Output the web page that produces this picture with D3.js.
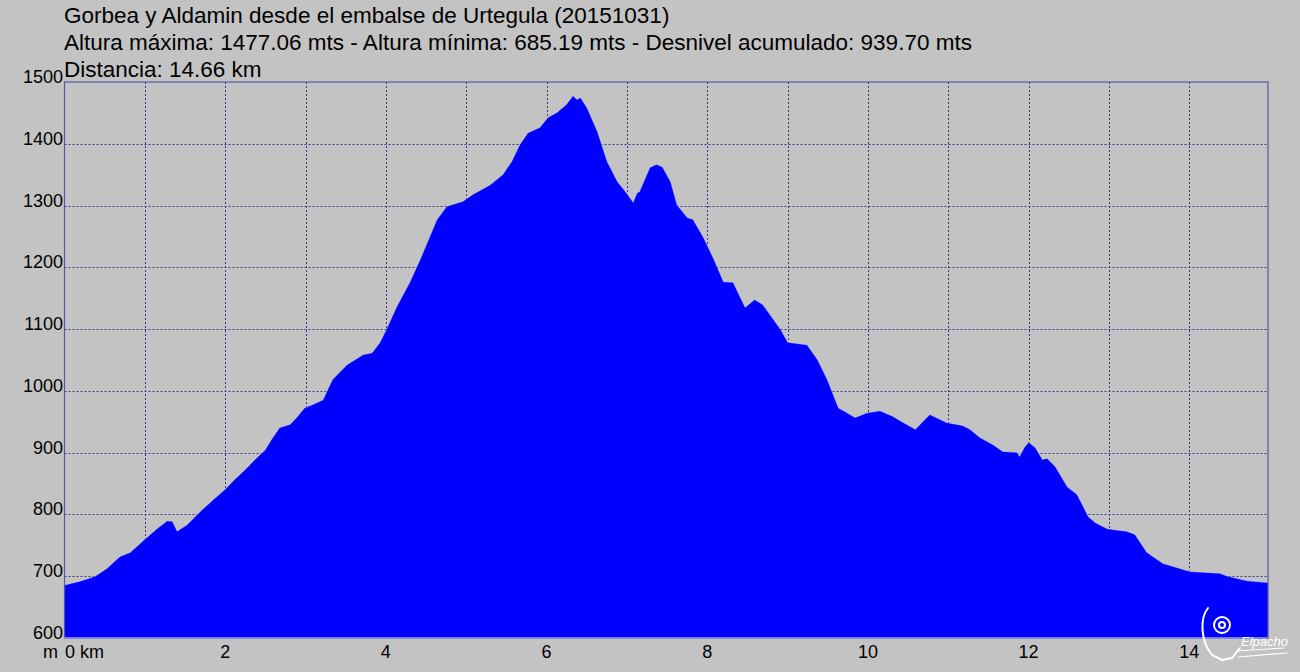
<!DOCTYPE html>
<html>
<head>
<meta charset="utf-8">
<script src="https://cdn.jsdelivr.net/npm/d3@7"></script>
<style>
  html, body { margin: 0; padding: 0; background: #c3c3c3; }
  svg { display: block; }
  text { font-family: "Liberation Sans", Arial, sans-serif; fill: #000; }
</style>
</head>
<body>
<svg id="chart" width="1300" height="672"></svg>
<script>
// ---- data ----
const titleLines = [
  "Gorbea y Aldamin desde el embalse de Urtegula (20151031)",
  "Altura máxima: 1477.06 mts - Altura mínima: 685.19 mts - Desnivel acumulado: 939.70 mts",
  "Distancia: 14.66 km"
];
const yTicks = [600, 700, 800, 900, 1000, 1100, 1200, 1300, 1400, 1500];
const xGrid = [1, 2, 3, 4, 5, 6, 7, 8, 9, 10, 11, 12, 13, 14];
const xLabels = [2, 4, 6, 8, 10, 12, 14];
const distKm = [0, 0.19, 0.38, 0.53, 0.69, 0.82, 1.00, 1.15, 1.28, 1.34, 1.40, 1.53, 1.69, 1.85, 2.00,
  2.12, 2.25, 2.37, 2.50, 2.58, 2.68, 2.81, 2.89, 2.99, 3.09, 3.22, 3.34, 3.52, 3.72, 3.83, 3.93,
  4.01, 4.14, 4.30, 4.43, 4.55, 4.64, 4.76, 4.96, 5.08, 5.30, 5.46, 5.57, 5.67, 5.77, 5.92, 6.02,
  6.13, 6.25, 6.33, 6.38, 6.42, 6.50, 6.63, 6.75, 6.88, 6.98, 7.08, 7.13, 7.16, 7.29, 7.37, 7.44,
  7.54, 7.62, 7.75, 7.82, 7.95, 8.07, 8.20, 8.32, 8.47, 8.59, 8.69, 8.91, 9.00, 9.24, 9.37, 9.49,
  9.63, 9.74, 9.84, 9.99, 10.15, 10.31, 10.44, 10.59, 10.77, 10.98, 11.18, 11.27, 11.39, 11.56,
  11.68, 11.85, 11.89, 11.95, 12.00, 12.08, 12.17, 12.23, 12.33, 12.48, 12.60, 12.74, 12.83,
  12.98, 13.22, 13.32, 13.47, 13.67, 14.01, 14.38, 14.48, 14.72, 14.98];
const elevM = [685, 691, 699, 712, 731, 738, 759, 776, 789, 788, 772, 783, 804, 823, 840,
  856, 872, 888, 904, 921, 940, 945, 956, 972, 977, 985, 1018, 1042, 1058, 1061, 1078,
  1099, 1136, 1175, 1212, 1249, 1277, 1298, 1306, 1317, 1333, 1350, 1371, 1398, 1417, 1426, 1442,
  1450, 1463, 1477, 1471, 1474, 1458, 1419, 1371, 1338, 1322, 1304, 1320, 1322, 1361, 1366, 1362,
  1338, 1301, 1280, 1277, 1248, 1215, 1176, 1175, 1134, 1147, 1139, 1099, 1078, 1074, 1050, 1018,
  972, 964, 956, 964, 967, 958, 948, 937, 961, 948, 943, 937, 924, 912,
  901, 900, 893, 908, 916, 908, 888, 890, 877, 844, 832, 796, 786,
  776, 772, 767, 738, 720, 707, 704, 699, 692, 689];

// ---- layout ----
const svg = d3.select("#chart");
const L = 64.5, R = 1268, T = 82, B = 638;
const x = d3.scaleLinear().domain([0, 14.98]).range([L, R]);
const y = d3.scaleLinear().domain([600, 1500]).range([B, T]);

svg.append("rect").attr("width", 1300).attr("height", 672).attr("fill", "#c3c3c3");

// grid
const grid = svg.append("g").attr("stroke", "#3a3a8a").attr("stroke-width", 1)
  .attr("stroke-dasharray", "2,2").attr("fill", "none");
grid.selectAll("line.h").data(yTicks.filter(d => d > 600 && d < 1500)).join("line")
  .attr("x1", L).attr("x2", R).attr("y1", d => Math.round(y(d)) + 0.5).attr("y2", d => Math.round(y(d)) + 0.5);
grid.selectAll("line.v").data(xGrid).join("line")
  .attr("y1", T).attr("y2", B).attr("x1", d => Math.round(x(d)) + 0.5).attr("x2", d => Math.round(x(d)) + 0.5);

// area
const pts = distKm.map((d, i) => [d, elevM[i]]);
const area = d3.area().x(d => x(d[0])).y0(B).y1(d => y(d[1])).curve(d3.curveLinear);
svg.append("path").datum(pts).attr("d", area).attr("fill", "#0000ff")
  .attr("stroke", "#8c8cf0").attr("stroke-width", 1).attr("stroke-linejoin", "round");
svg.append("path").datum(pts).attr("d", area).attr("fill", "#0000ff");

// frame
svg.append("rect").attr("x", L).attr("y", T).attr("width", R - L).attr("height", B - T)
  .attr("fill", "none").attr("stroke", "#5858a8").attr("stroke-width", 1.2);
svg.append("line").attr("x1", L).attr("x2", R).attr("y1", B).attr("y2", B)
  .attr("stroke", "#9090e8").attr("stroke-width", 1.5);

// y labels
svg.append("g").selectAll("text").data(yTicks).join("text")
  .attr("x", 63).attr("y", d => y(d) + 1)
  .attr("text-anchor", "end").attr("font-size", 18).text(d => d);

// x labels
svg.append("text").attr("x", 43).attr("y", 658).attr("font-size", 18).text("m");
svg.append("text").attr("x", 65).attr("y", 658).attr("font-size", 18).text("0 km");
svg.append("g").selectAll("text").data(xLabels).join("text")
  .attr("x", d => x(d)).attr("y", 658).attr("text-anchor", "middle")
  .attr("font-size", 18).text(d => d);

// titles
svg.append("g").selectAll("text").data(titleLines).join("text")
  .attr("x", 64).attr("y", (d, i) => 23 + i * 27)
  .attr("font-size", 22.5).text(d => d);

// watermark
const wm = svg.append("g").attr("stroke", "#fff").attr("fill", "none").attr("stroke-width", 2)
  .attr("stroke-linecap", "round");
wm.append("path").attr("d", "M1208,608 C1200,618 1200,640 1212,655 L1222,660");
wm.append("path").attr("d", "M1222,660 L1232,658 L1240,648");
wm.append("circle").attr("cx", 1222).attr("cy", 625).attr("r", 8);
wm.append("circle").attr("cx", 1222).attr("cy", 625).attr("r", 3);
wm.append("path").attr("d", "M1238,657 L1287,653").attr("stroke-width", 1.2);
wm.append("path").attr("d", "M1236,651 L1284,648").attr("stroke-width", 1.2);
svg.append("text").attr("x", 1241).attr("y", 646).attr("font-size", 13)
  .attr("font-style", "italic").style("fill", "#fff").text("Elpacho");
</script>
</body>
</html>
